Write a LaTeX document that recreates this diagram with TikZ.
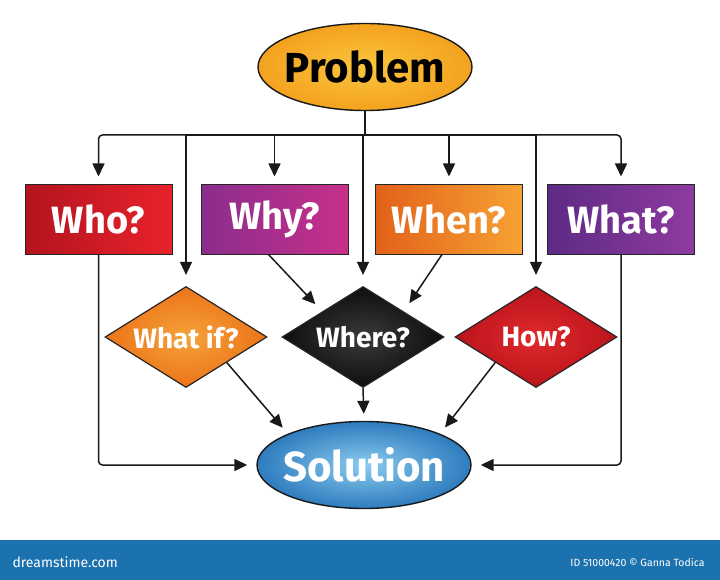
\documentclass[tikz,border=0pt]{standalone}
\usepackage{fontspec}
\setmainfont{Fira Sans}
\usetikzlibrary{shapes.geometric,arrows.meta}
\definecolor{probA}{HTML}{FCC53E}
\definecolor{probB}{HTML}{F3A21F}
\definecolor{whoA}{HTML}{B3141E}
\definecolor{whoB}{HTML}{E8222B}
\definecolor{whyA}{HTML}{8A2D8C}
\definecolor{whyB}{HTML}{C7308B}
\definecolor{whenA}{HTML}{E2611A}
\definecolor{whenB}{HTML}{F7A233}
\definecolor{whatA}{HTML}{5E2A86}
\definecolor{whatB}{HTML}{8E3B9E}
\definecolor{wifA}{HTML}{F5A23A}
\definecolor{wifB}{HTML}{EC7419}
\definecolor{whereA}{HTML}{3A3A3A}
\definecolor{whereB}{HTML}{0E0E0E}
\definecolor{howA}{HTML}{E0292B}
\definecolor{howB}{HTML}{BA141C}
\definecolor{solA}{HTML}{8ACBEF}
\definecolor{solB}{HTML}{2E7CBE}
\definecolor{barblue}{HTML}{1B72AE}
\begin{document}
\begin{tikzpicture}[x=1pt,y=-1pt,
  qbox/.style={draw=black!85, line width=1pt, minimum width=147pt, minimum height=69pt, inner sep=0pt},
  boxtxt/.style={text=white, font=\bfseries\fontsize{38}{38}\selectfont},
  dia/.style={diamond, draw=black!85, line width=1.2pt, minimum width=162pt, minimum height=101pt, inner sep=0pt},
  diatxt/.style={text=white, font=\bfseries\fontsize{28}{28}\selectfont},
  oval/.style={ellipse, draw=black!90, line width=1.4pt, minimum width=214pt, minimum height=87pt, inner sep=0pt},
  conn/.style={draw=black!90, line width=1.5pt},
  arr/.style={conn, -{Triangle[width=12pt,length=13pt]}},
  barA/.style={text=white, font=\fontsize{14}{14}\selectfont},
  barB/.style={text=white, font=\fontsize{10.5}{10.5}\selectfont}
]
\useasboundingbox (0,0) rectangle (720,580);
\fill[white] (0,0) rectangle (720,580);
\fill[barblue] (0,540) rectangle (720,580);

% Problem
\node[oval, inner color=probA, outer color=probB] (prob) at (365,67) {};
\node[font=\bfseries\fontsize{42}{42}\selectfont, text=black] (probt) at (prob) {Problem};

% question boxes
\node[qbox, left color=whoA, right color=whoB] (who) at (98.5,219.5) {};
\node[boxtxt] (whot) at (who) {Who?};
\node[qbox, left color=whyA, right color=whyB] (why) at (274.5,219.5) {};
\node[boxtxt] (whyt) at (why) {Why?};
\node[qbox, left color=whenA, right color=whenB] (when) at (449,219.5) {};
\node[boxtxt] (whent) at (when) {When?};
\node[qbox, left color=whatA, right color=whatB] (what) at (621,219.5) {};
\node[boxtxt] (whatt) at (what) {What?};

% diamonds
\node[dia, inner color=wifA, outer color=wifB] (wif) at (186,337) {};
\node[diatxt] (wift) at (wif) {What if?};
\node[dia, inner color=whereA, outer color=whereB] (where) at (363,337) {};
\node[diatxt] (wheret) at (where) {Where?};
\node[dia, inner color=howA, outer color=howB] (how) at (536,337) {};
\node[diatxt] (howt) at (how) {How?};

% Solution
\node[oval, inner color=solA, outer color=solB] (sol) at (364,465) {};
\node[font=\bfseries\fontsize{42}{42}\selectfont, text=white] (solt) at (sol) {Solution};

% connectors from Problem
\coordinate (hub) at (365,135);
\draw[conn] (prob.south) -- (hub);
\draw[arr, rounded corners=4pt, shorten >=8pt] (hub) -| (who.north);
\draw[arr, shorten >=8pt] (hub) -| (why.north);
\draw[arr, shorten >=8pt] (hub) -| (when.north);
\draw[arr, rounded corners=4pt, shorten >=8pt] (hub) -| (what.north);
\draw[arr, shorten >=11pt] (hub) -| (wif.north);
\draw[arr, shorten >=11pt] (hub) -| (where.north);
\draw[arr, shorten >=11pt] (hub) -| (how.north);

% into Where
\draw[arr, shorten >=10pt] ([xshift=-6pt]why.south) -- (where.north west);
\draw[arr, shorten >=10pt] ([xshift=-7pt]when.south) -- (where.north east);

% into Solution
\draw[arr, shorten >=8pt] (wif.south east) -- (sol.north west);
\draw[arr, shorten >=7pt] (where.south) -- (sol.north);
\draw[arr, shorten >=8pt] (how.south west) -- (sol.north east);
\draw[arr, rounded corners=4pt, shorten >=9pt] (who.south) |- (sol.west);
\draw[arr, rounded corners=4pt, shorten >=9pt] (what.south) |- (sol.east);

% bottom bar
\node[barA, anchor=west] (brand) at (9,562) {dreamstime.com};
\node[barB, anchor=east] (credit) at (708,562) {ID 51000420 © Ganna Todica};
\end{tikzpicture}
\end{document}
